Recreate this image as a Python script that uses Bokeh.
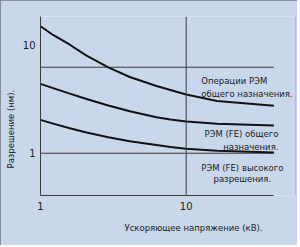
from bokeh.plotting import figure
from bokeh.models import FixedTicker, Span, Label, Title
from bokeh.embed import file_html
from bokeh.resources import INLINE

# Data
voltage_kv = [1.0, 1.22, 1.59, 2.07, 2.92, 4.10, 6.25, 7.80, 10.0, 16.3, 40.0]
res_sem_general = [14.8, 12.3, 10.0, 7.95, 6.18, 5.04, 4.17, 3.82, 3.48, 3.03, 2.74]
res_fe_general = [4.36, 3.98, 3.54, 3.16, 2.75, 2.44, 2.15, 2.05, 1.96, 1.87, 1.80]
res_fe_high = [2.03, 1.875, 1.70, 1.556, 1.403, 1.288, 1.189, 1.143, 1.102, 1.052, 1.016]
x_ticks = [1, 10]
y_ticks = [1, 10]
ref_lines_x = [10]
ref_lines_y = [1, 6.2]
label_sem = ["Операции РЭМ", "общего назначения."]
label_fe_gen = ["РЭМ (FE) общего", "назначения."]
label_fe_high = ["РЭМ (FE) высокого", "разрешения."]
x_title = "Ускоряющее напряжение (кВ)."
y_title = "Разрешение (нм)."

BG = "#C8D8EA"
INK = "#1a1a1a"
GRID = "#3c3c3c"
FONT = "DejaVu Sans"

x_min, x_max = voltage_kv[0], voltage_kv[-1]

p = figure(width=297, height=245, x_axis_type="log", y_axis_type="log",
           x_range=(1, 56.3), y_range=(0.408, 18.2),
           output_backend="svg", toolbar_location=None,
           min_border_left=40, min_border_right=2, min_border_top=16, min_border_bottom=50)
p.background_fill_color = BG
p.border_fill_color = BG
p.outline_line_color = None
p.grid.visible = False
p.styles = {"outline": "2px solid #707680", "outline-offset": "-2px"}

for ax, ticks in ((p.xaxis[0], x_ticks), (p.yaxis[0], y_ticks)):
    ax.ticker = FixedTicker(ticks=ticks, minor_ticks=[])
    ax.major_label_overrides = {t: str(t) for t in ticks}
    ax.major_tick_out = 0
    ax.major_tick_in = 0
    ax.minor_tick_out = 0
    ax.minor_tick_in = 0
    ax.axis_line_color = GRID
    ax.axis_line_width = 1
    ax.major_label_text_font = FONT
    ax.major_label_text_font_size = "10px"
    ax.major_label_text_color = INK
p.xaxis.bounds = (x_min, x_max)
p.xaxis.major_label_standoff = 6
p.yaxis.major_label_standoff = 5

for xv in ref_lines_x:
    p.add_layout(Span(location=xv, dimension="height", line_color=GRID, line_width=1))
p.segment(x0=[x_min] * len(ref_lines_y), x1=[x_max] * len(ref_lines_y),
          y0=ref_lines_y, y1=ref_lines_y, line_color=GRID, line_width=1)

for ys in (res_sem_general, res_fe_general, res_fe_high):
    p.line(voltage_kv, ys, line_color="#111111", line_width=2, line_join="round")

def lab(x, y, text, align="left"):
    p.add_layout(Label(x=x, y=y, text=text, text_align=align, text_baseline="middle",
                       text_font=FONT, text_font_size="8.5px", text_color=INK))

lab(12.7, 4.68, label_sem[0])
lab(12.7, 3.55, label_sem[1])
lab(43.0, 1.50, label_fe_gen[0], "right")
lab(43.0, 1.153, label_fe_gen[1], "right")
lab(24.3, 0.738, label_fe_high[0], "center")
lab(24.3, 0.585, label_fe_high[1], "center")

tx = Title(text=x_title, align="left", offset=84, text_font=FONT, text_font_size="8.5px",
           text_color=INK, text_font_style="normal", standoff=16)
p.add_layout(tx, "below")
ty = Title(text=y_title, align="left", offset=27, text_font=FONT, text_font_size="8.5px",
           text_color=INK, text_font_style="normal", standoff=7)
p.add_layout(ty, "left")

open("out.html", "w").write(file_html(p, INLINE))
